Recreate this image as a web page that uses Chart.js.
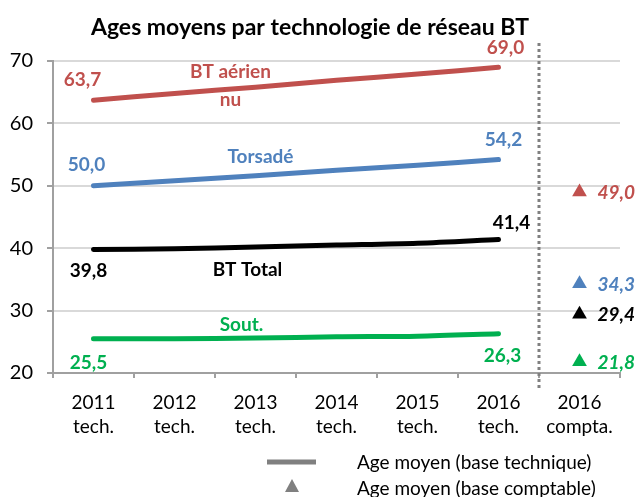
<!DOCTYPE html>
<html>
<head>
<meta charset="utf-8">
<script src="https://cdn.jsdelivr.net/npm/chart.js@4.4.1/dist/chart.umd.min.js"></script>
<style>
  html, body { margin: 0; padding: 0; background: #fff; }
  #wrap { width: 639px; height: 497px; }
</style>
</head>
<body>
<div id="wrap"><canvas id="chart" width="639" height="497"></canvas></div>
<script>
  // --- data ---
  const categories = [
    ['2011', 'tech.'], ['2012', 'tech.'], ['2013', 'tech.'],
    ['2014', 'tech.'], ['2015', 'tech.'], ['2016', 'tech.'], ['2016', 'compta.']
  ];
  const aerienNu = [63.7, 64.8, 65.8, 66.9, 67.9, 69.0];
  const torsade  = [50.0, 50.8, 51.6, 52.5, 53.3, 54.2];
  const btTotal  = [39.8, 39.9, 40.2, 40.5, 40.8, 41.4];
  const sout     = [25.5, 25.5, 25.6, 25.8, 25.9, 26.3];
  // 2016 comptable : aérien nu, torsadé, total, sout.
  const comptaValues = [49.0, 34.3, 29.4, 21.8];
  const yMin = 20, yMax = 70, yStep = 10;

  const RED = '#C0504D', BLUE = '#4F81BD', BLACK = '#000000', GREEN = '#00B050';
  const FONT = 'Lato, "Open Sans", sans-serif';
  const COMPTA_IDX = categories.length - 1;

  function fmt(v) { return v.toFixed(1).replace('.', ','); }

  function lineSet(label, data, color) {
    return {
      type: 'line', label: label, data: data,
      borderColor: color, backgroundColor: color,
      borderWidth: 5, borderCapStyle: 'round', tension: 0.3,
      pointRadius: 0, fill: false
    };
  }
  function comptaSet(label, value, color) {
    const d = categories.map(() => null);
    d[COMPTA_IDX] = value;
    return {
      type: 'line', label: label, data: d, showLine: false,
      pointStyle: 'triangle', pointRadius: 8.5, pointHoverRadius: 8.5,
      pointBackgroundColor: color, pointBorderWidth: 0
    };
  }

  const series = [
    { name: ['BT aérien', 'nu'], data: aerienNu, color: RED },
    { name: ['Torsadé'], data: torsade, color: BLUE },
    { name: ['BT Total'], data: btTotal, color: BLACK },
    { name: ['Sout.'], data: sout, color: GREEN }
  ];

  // label placements (pixel offsets from the anchor point)
  const firstOff = [[-11, -20], [-7, -21], [-5, 21], [-5, 24]];
  const lastOff  = [[7, -19], [5, -20], [13, -17], [4, 22]];
  const nameOff  = [[[-25, -15], [-25, 13]], [[5, -19]], [[-8, 23]], [[-14, -13]]];

  const labelPlugin = {
    id: 'labels',
    afterDatasetsDraw(chart) {
      const ctx = chart.ctx, xs = chart.scales.x, ys = chart.scales.y;
      ctx.save();
      ctx.textAlign = 'center';
      ctx.textBaseline = 'middle';
      ctx.font = 'bold 19px ' + FONT;
      series.forEach((s, k) => {
        ctx.fillStyle = s.color;
        const n = s.data.length - 1;
        ctx.fillText(fmt(s.data[0]), xs.getPixelForValue(0) + firstOff[k][0], ys.getPixelForValue(s.data[0]) + firstOff[k][1]);
        ctx.fillText(fmt(s.data[n]), xs.getPixelForValue(n) + lastOff[k][0], ys.getPixelForValue(s.data[n]) + lastOff[k][1]);
        s.name.forEach((t, j) => {
          ctx.fillText(t, xs.getPixelForValue(2) + nameOff[k][j][0], ys.getPixelForValue(s.data[2]) + nameOff[k][j][1]);
        });
      });
      // comptable values
      ctx.textAlign = 'left';
      ctx.font = 'italic bold 19px ' + FONT;
      comptaValues.forEach((v, k) => {
        ctx.fillStyle = series[k].color;
        ctx.fillText(fmt(v), xs.getPixelForValue(COMPTA_IDX) + 18, ys.getPixelForValue(v) + 1);
      });
      ctx.restore();
    },
    afterDraw(chart) {
      const ctx = chart.ctx, xs = chart.scales.x;
      ctx.save();
      // dotted separator between technical and accounting base
      const sx = Math.round((xs.getPixelForValue(COMPTA_IDX - 1) + xs.getPixelForValue(COMPTA_IDX)) / 2);
      ctx.strokeStyle = '#808080';
      ctx.lineWidth = 3;
      ctx.setLineDash([3, 3]);
      ctx.beginPath();
      ctx.moveTo(sx, 43);
      ctx.lineTo(sx, 389);
      ctx.stroke();
      ctx.setLineDash([]);
      // legend
      ctx.strokeStyle = '#808080';
      ctx.lineWidth = 5;
      ctx.beginPath();
      ctx.moveTo(267, 462);
      ctx.lineTo(316, 462);
      ctx.stroke();
      ctx.fillStyle = '#808080';
      ctx.beginPath();
      ctx.moveTo(292, 479);
      ctx.lineTo(299, 492);
      ctx.lineTo(285, 492);
      ctx.closePath();
      ctx.fill();
      ctx.fillStyle = '#000';
      ctx.font = '19px ' + FONT;
      ctx.textAlign = 'left';
      ctx.textBaseline = 'middle';
      ctx.fillText('Age moyen (base technique)', 357, 463);
      ctx.fillText('Age moyen (base comptable)', 357, 489);
      ctx.restore();
    }
  };

  const datasets = series.map(s => lineSet(s.name.join(' '), s.data, s.color))
    .concat(series.map((s, k) => comptaSet(s.name.join(' ') + ' (compta.)', comptaValues[k], s.color)));

  new Chart(document.getElementById('chart'), {
    type: 'line',
    data: { labels: categories, datasets: datasets },
    options: {
      responsive: false,
      animation: false,
      devicePixelRatio: 1,
      layout: { padding: { left: 0, right: 19, top: 0, bottom: 0 } },
      plugins: {
        legend: { display: false },
        tooltip: { enabled: false },
        title: {
          display: true,
          text: 'Ages moyens par technologie de réseau BT',
          color: '#000',
          font: { family: FONT, size: 23, weight: 'bold', lineHeight: 1.2 },
          padding: { top: 14, bottom: 19.4 }
        }
      },
      scales: {
        x: {
          offset: true,
          grid: { offset: true, drawOnChartArea: false, drawTicks: true, tickLength: 5, color: '#A0A0A0', lineWidth: 2 },
          border: { color: '#A0A0A0', width: 2 },
          ticks: { color: '#000', font: { family: FONT, size: 19, lineHeight: 1.25 }, padding: 13, maxRotation: 0, autoSkip: false },
          afterFit(scale) { scale.height = 124; }
        },
        y: {
          min: yMin, max: yMax,
          grid: { color: '#D9D9D9', lineWidth: 2, tickColor: '#A0A0A0', tickLength: 6 },
          border: { color: '#A0A0A0', width: 2 },
          ticks: { stepSize: yStep, color: '#000', font: { family: FONT, size: 20 }, padding: 14 },
          afterFit(scale) { scale.width = 53; }
        }
      }
    },
    plugins: [labelPlugin]
  });
</script>
</body>
</html>
